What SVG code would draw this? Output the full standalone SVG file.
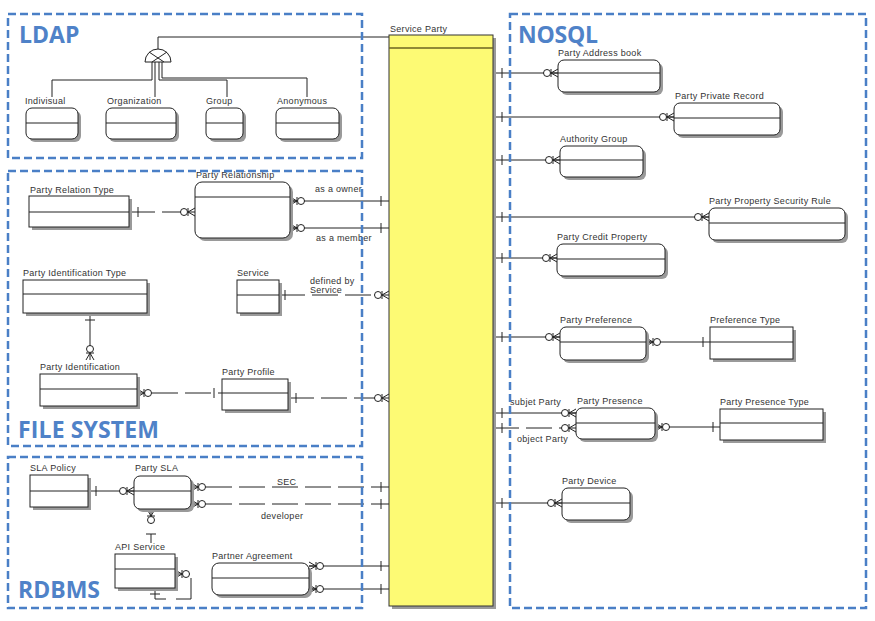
<svg xmlns="http://www.w3.org/2000/svg" xmlns:xlink="http://www.w3.org/1999/xlink" width="875" height="621" viewBox="0 0 875 621">
<style>
.t{font-family:"Liberation Sans",Arial,sans-serif;font-size:9px;fill:#333;letter-spacing:0.3px}
.ln{stroke:#222;stroke-width:1;fill:none}
.dl{stroke-dasharray:26 7}
.box{fill:#fff;stroke:#222;stroke-width:1}
.sp{fill:#fdfa74;stroke:#333;stroke-width:1}
.sh{fill:#9a9a9a}
.dv{stroke:#222;stroke-width:1}
.sec{fill:none;stroke:#4a7fc6;stroke-width:2.5;stroke-dasharray:8 4}
.st{font-family:"Open Sans","Liberation Sans",sans-serif;font-weight:bold;font-size:23px;fill:#4f82c8}
</style>
<defs>
<g id="cf">
<line x1="-15" y1="0" x2="0" y2="0" class="ln"/>
<line x1="-7" y1="-4" x2="-7" y2="4" class="ln"/>
<line x1="-7" y1="0" x2="0" y2="-4" class="ln"/>
<line x1="-7" y1="0" x2="0" y2="4" class="ln"/>
<circle cx="-11" cy="0" r="3.5" fill="#fff" stroke="#222" stroke-width="1"/>
</g>
<g id="bv"><line x1="0" y1="-5" x2="0" y2="5" class="ln"/></g>
<g id="bh"><line x1="-5" y1="0" x2="5" y2="0" class="ln"/></g>
</defs>

<rect width="875" height="621" fill="#fff"/>

<!-- connectors -->
<g id="connectors">
<!-- LDAP subtype -->
<path class="ln" d="M158,49 V37 H389"/>
<path class="ln" d="M152,62 V80 H52 V97"/>
<path class="ln" d="M155,62 V97"/>
<path class="ln" d="M159,62 V80 H227 V97"/>
<path class="ln" d="M162,62 V78 H307 V97"/>
<path d="M145,62 A13,13 0 0 1 171,62 Z" fill="#fff" stroke="#222" stroke-width="1"/>
<line class="ln" x1="149" y1="52" x2="164" y2="62"/>
<line class="ln" x1="167" y1="52" x2="152" y2="62"/>

<!-- FILE SYSTEM -->
<path class="ln dl" d="M129,212 H183"/>
<use xlink:href="#bv" x="138" y="212"/>
<use xlink:href="#cf" transform="translate(195,212)"/>
<path class="ln" d="M290,201 H389"/>
<use xlink:href="#cf" transform="translate(290,201) scale(-1,1)"/>
<use xlink:href="#bv" x="381" y="201"/>
<path class="ln" d="M290,228 H389"/>
<use xlink:href="#cf" transform="translate(290,228) scale(-1,1)"/>
<use xlink:href="#bv" x="381" y="228"/>
<path class="ln" d="M90,313 V348"/>
<use xlink:href="#bh" x="90" y="320"/>
<use xlink:href="#cf" transform="translate(90,360) rotate(90)"/>
<path class="ln dl" d="M279,295 H375"/>
<use xlink:href="#bv" x="285" y="295"/>
<use xlink:href="#cf" transform="translate(389,295)"/>
<path class="ln dl" d="M152,393 H222"/>
<use xlink:href="#cf" transform="translate(137,393) scale(-1,1)"/>
<use xlink:href="#bv" x="214" y="393"/>
<path class="ln dl" d="M288,398 H375"/>
<use xlink:href="#bv" x="296" y="398"/>
<use xlink:href="#cf" transform="translate(389,398)"/>

<!-- RDBMS -->
<path class="ln" d="M88,491 H134"/>
<use xlink:href="#bv" x="96" y="491"/>
<use xlink:href="#cf" transform="translate(134,491)"/>
<path class="ln dl" d="M206,487 H389"/>
<use xlink:href="#cf" transform="translate(191,487) scale(-1,1)"/>
<use xlink:href="#bv" x="381" y="487"/>
<path class="ln dl" d="M206,504 H389"/>
<use xlink:href="#cf" transform="translate(191,504) scale(-1,1)"/>
<use xlink:href="#bv" x="381" y="504"/>
<use xlink:href="#cf" transform="translate(151,509) rotate(-90)"/>
<path class="ln" d="M151,534 V543"/>
<use xlink:href="#bh" x="151" y="534"/>
<use xlink:href="#cf" transform="translate(175,574) scale(-1,1)"/>
<path class="ln" d="M191,578 V599 H176 M166,599 H155 V588"/>
<use xlink:href="#bh" x="155" y="594"/>
<path class="ln" d="M309,566 H389"/>
<use xlink:href="#cf" transform="translate(309,566) scale(-1,1)"/>
<use xlink:href="#bv" x="381" y="566"/>
<path class="ln" d="M309,589 H389"/>
<use xlink:href="#cf" transform="translate(309,589) scale(-1,1)"/>
<use xlink:href="#bv" x="381" y="589"/>

<!-- NOSQL -->
<path class="ln" d="M493,73 H558"/><use xlink:href="#bv" x="502" y="73"/><use xlink:href="#cf" transform="translate(558,73)"/>
<path class="ln" d="M493,117 H674"/><use xlink:href="#bv" x="502" y="117"/><use xlink:href="#cf" transform="translate(674,117)"/>
<path class="ln" d="M493,160 H560"/><use xlink:href="#bv" x="502" y="160"/><use xlink:href="#cf" transform="translate(560,160)"/>
<path class="ln" d="M493,217 H709"/><use xlink:href="#bv" x="502" y="217"/><use xlink:href="#cf" transform="translate(709,217)"/>
<path class="ln" d="M493,258 H557"/><use xlink:href="#bv" x="502" y="258"/><use xlink:href="#cf" transform="translate(557,258)"/>
<path class="ln" d="M493,337 H560"/><use xlink:href="#bv" x="502" y="337"/><use xlink:href="#cf" transform="translate(560,337)"/>
<path class="ln" d="M493,413 H576"/><use xlink:href="#bv" x="502" y="413"/><use xlink:href="#cf" transform="translate(576,413)"/>
<path class="ln dl" d="M493,428 H562"/><use xlink:href="#bv" x="502" y="428"/><use xlink:href="#cf" transform="translate(576,428)"/>
<path class="ln" d="M493,503 H562"/><use xlink:href="#bv" x="502" y="503"/><use xlink:href="#cf" transform="translate(562,503)"/>
<path class="ln" d="M646,342 H710"/><use xlink:href="#cf" transform="translate(646,342) scale(-1,1)"/><use xlink:href="#bv" x="703" y="342"/>
<path class="ln" d="M655,427 H720"/><use xlink:href="#cf" transform="translate(655,427) scale(-1,1)"/><use xlink:href="#bv" x="713" y="427"/>

<!-- connector labels -->
<text class="t" x="315" y="192">as a owner</text>
<text class="t" x="316" y="241">as a member</text>
<text class="t" x="310" y="284">defined by</text>
<text class="t" x="310" y="293">Service</text>
<text class="t" x="277" y="485">SEC</text>
<text class="t" x="261" y="519">developer</text>
<text class="t" x="510" y="405">subjet Party</text>
<text class="t" x="517" y="442">object Party</text>
</g>

<!-- entities -->
<g id="indivisual"><rect class="sh" x="29" y="111" width="52" height="31" rx="6"/><rect class="box" x="26" y="108" width="52" height="31" rx="6"/><line class="dv" x1="26" y1="123" x2="78" y2="123"/><text class="t" x="25" y="104">Indivisual</text></g>
<g id="organization"><rect class="sh" x="109" y="111" width="70" height="31" rx="6"/><rect class="box" x="106" y="108" width="70" height="31" rx="6"/><line class="dv" x1="106" y1="123" x2="176" y2="123"/><text class="t" x="107" y="104">Organization</text></g>
<g id="group"><rect class="sh" x="209" y="111" width="37" height="31" rx="6"/><rect class="box" x="206" y="108" width="37" height="31" rx="6"/><line class="dv" x1="206" y1="123" x2="243" y2="123"/><text class="t" x="206" y="104">Group</text></g>
<g id="anonymous"><rect class="sh" x="279" y="111" width="63" height="31" rx="6"/><rect class="box" x="276" y="108" width="63" height="31" rx="6"/><line class="dv" x1="276" y1="123" x2="339" y2="123"/><text class="t" x="277" y="104">Anonymous</text></g>

<g id="party-relation-type"><rect class="sh" x="32" y="199" width="100" height="31"/><rect class="box" x="29" y="196" width="100" height="31"/><line class="dv" x1="29" y1="212" x2="129" y2="212"/><text class="t" x="30" y="193">Party Relation Type</text></g>
<g id="party-relationship"><rect class="sh" x="198" y="185" width="95" height="56" rx="7"/><rect class="box" x="195" y="182" width="95" height="56" rx="7"/><line class="dv" x1="195" y1="197" x2="290" y2="197"/><text class="t" x="196" y="178">Party Relationship</text></g>
<g id="party-identification-type"><rect class="sh" x="26" y="283" width="124" height="33"/><rect class="box" x="23" y="280" width="124" height="33"/><line class="dv" x1="23" y1="294" x2="147" y2="294"/><text class="t" x="23" y="276">Party Identification Type</text></g>
<g id="service"><rect class="sh" x="240" y="283" width="42" height="33"/><rect class="box" x="237" y="280" width="42" height="33"/><line class="dv" x1="237" y1="295" x2="279" y2="295"/><text class="t" x="237" y="276">Service</text></g>
<g id="party-identification"><rect class="sh" x="43" y="377" width="97" height="32"/><rect class="box" x="40" y="374" width="97" height="32"/><line class="dv" x1="40" y1="389" x2="137" y2="389"/><text class="t" x="40" y="370">Party Identification</text></g>
<g id="party-profile"><rect class="sh" x="225" y="382" width="66" height="31"/><rect class="box" x="222" y="379" width="66" height="31"/><line class="dv" x1="222" y1="393" x2="288" y2="393"/><text class="t" x="222" y="375">Party Profile</text></g>

<g id="sla-policy"><rect class="sh" x="33" y="478" width="58" height="32"/><rect class="box" x="30" y="475" width="58" height="32"/><line class="dv" x1="30" y1="491" x2="88" y2="491"/><text class="t" x="30" y="471">SLA Policy</text></g>
<g id="party-sla"><rect class="sh" x="137" y="479" width="57" height="33" rx="6"/><rect class="box" x="134" y="476" width="57" height="33" rx="6"/><line class="dv" x1="134" y1="491" x2="191" y2="491"/><text class="t" x="135" y="471">Party SLA</text></g>
<g id="api-service"><rect class="sh" x="118" y="557" width="60" height="34"/><rect class="box" x="115" y="554" width="60" height="34"/><line class="dv" x1="115" y1="569" x2="175" y2="569"/><text class="t" x="115" y="550">API Service</text></g>
<g id="partner-agreement"><rect class="sh" x="215" y="566" width="97" height="32" rx="7"/><rect class="box" x="212" y="563" width="97" height="32" rx="7"/><line class="dv" x1="212" y1="578" x2="309" y2="578"/><text class="t" x="212" y="559">Partner Agreement</text></g>

<g id="service-party"><rect class="sh" x="392" y="38" width="104" height="571"/><rect class="sp" x="389" y="35" width="104" height="571"/><line x1="389" y1="48" x2="493" y2="48" stroke="#6b6420" stroke-width="1.5"/><text class="t" x="390" y="32">Service Party</text></g>

<g id="party-address-book"><rect class="sh" x="561" y="63" width="102" height="32" rx="6"/><rect class="box" x="558" y="60" width="102" height="32" rx="6"/><line class="dv" x1="558" y1="73" x2="660" y2="73"/><text class="t" x="558" y="56">Party Address book</text></g>
<g id="party-private-record"><rect class="sh" x="677" y="106" width="106" height="32" rx="6"/><rect class="box" x="674" y="103" width="106" height="32" rx="6"/><line class="dv" x1="674" y1="118" x2="780" y2="118"/><text class="t" x="675" y="99">Party Private Record</text></g>
<g id="authority-group"><rect class="sh" x="563" y="149" width="83" height="31" rx="6"/><rect class="box" x="560" y="146" width="83" height="31" rx="6"/><line class="dv" x1="560" y1="160" x2="643" y2="160"/><text class="t" x="560" y="142">Authority Group</text></g>
<g id="party-property-security-rule"><rect class="sh" x="712" y="211" width="136" height="32" rx="6"/><rect class="box" x="709" y="208" width="136" height="32" rx="6"/><line class="dv" x1="709" y1="223" x2="845" y2="223"/><text class="t" x="709" y="204">Party Property Security Rule</text></g>
<g id="party-credit-property"><rect class="sh" x="560" y="247" width="108" height="32" rx="6"/><rect class="box" x="557" y="244" width="108" height="32" rx="6"/><line class="dv" x1="557" y1="259" x2="665" y2="259"/><text class="t" x="557" y="240">Party Credit Property</text></g>
<g id="party-preference"><rect class="sh" x="563" y="330" width="86" height="33" rx="6"/><rect class="box" x="560" y="327" width="86" height="33" rx="6"/><line class="dv" x1="560" y1="342" x2="646" y2="342"/><text class="t" x="560" y="323">Party Preference</text></g>
<g id="preference-type"><rect class="sh" x="713" y="330" width="83" height="32"/><rect class="box" x="710" y="327" width="83" height="32"/><line class="dv" x1="710" y1="342" x2="793" y2="342"/><text class="t" x="710" y="323">Preference Type</text></g>
<g id="party-presence"><rect class="sh" x="579" y="411" width="79" height="31" rx="6"/><rect class="box" x="576" y="408" width="79" height="31" rx="6"/><line class="dv" x1="576" y1="423" x2="655" y2="423"/><text class="t" x="577" y="404">Party Presence</text></g>
<g id="party-presence-type"><rect class="sh" x="723" y="412" width="103" height="31"/><rect class="box" x="720" y="409" width="103" height="31"/><line class="dv" x1="720" y1="423" x2="823" y2="423"/><text class="t" x="720" y="405">Party Presence Type</text></g>
<g id="party-device"><rect class="sh" x="565" y="491" width="68" height="32" rx="6"/><rect class="box" x="562" y="488" width="68" height="32" rx="6"/><line class="dv" x1="562" y1="503" x2="630" y2="503"/><text class="t" x="562" y="484">Party Device</text></g>

<!-- storage sections -->
<g id="ldap"><rect class="sec" x="8" y="14" width="354" height="144"/><text class="st" x="19" y="43">LDAP</text></g>
<g id="file-system"><rect class="sec" x="8" y="171" width="354" height="275"/><text class="st" x="18" y="438" textLength="141">FILE SYSTEM</text></g>
<g id="rdbms"><rect class="sec" x="8" y="457" width="354" height="151"/><text class="st" x="18" y="598" textLength="82">RDBMS</text></g>
<g id="nosql"><rect class="sec" x="510" y="14" width="356" height="594"/><text class="st" x="518" y="43" textLength="80">NOSQL</text></g>
</svg>
